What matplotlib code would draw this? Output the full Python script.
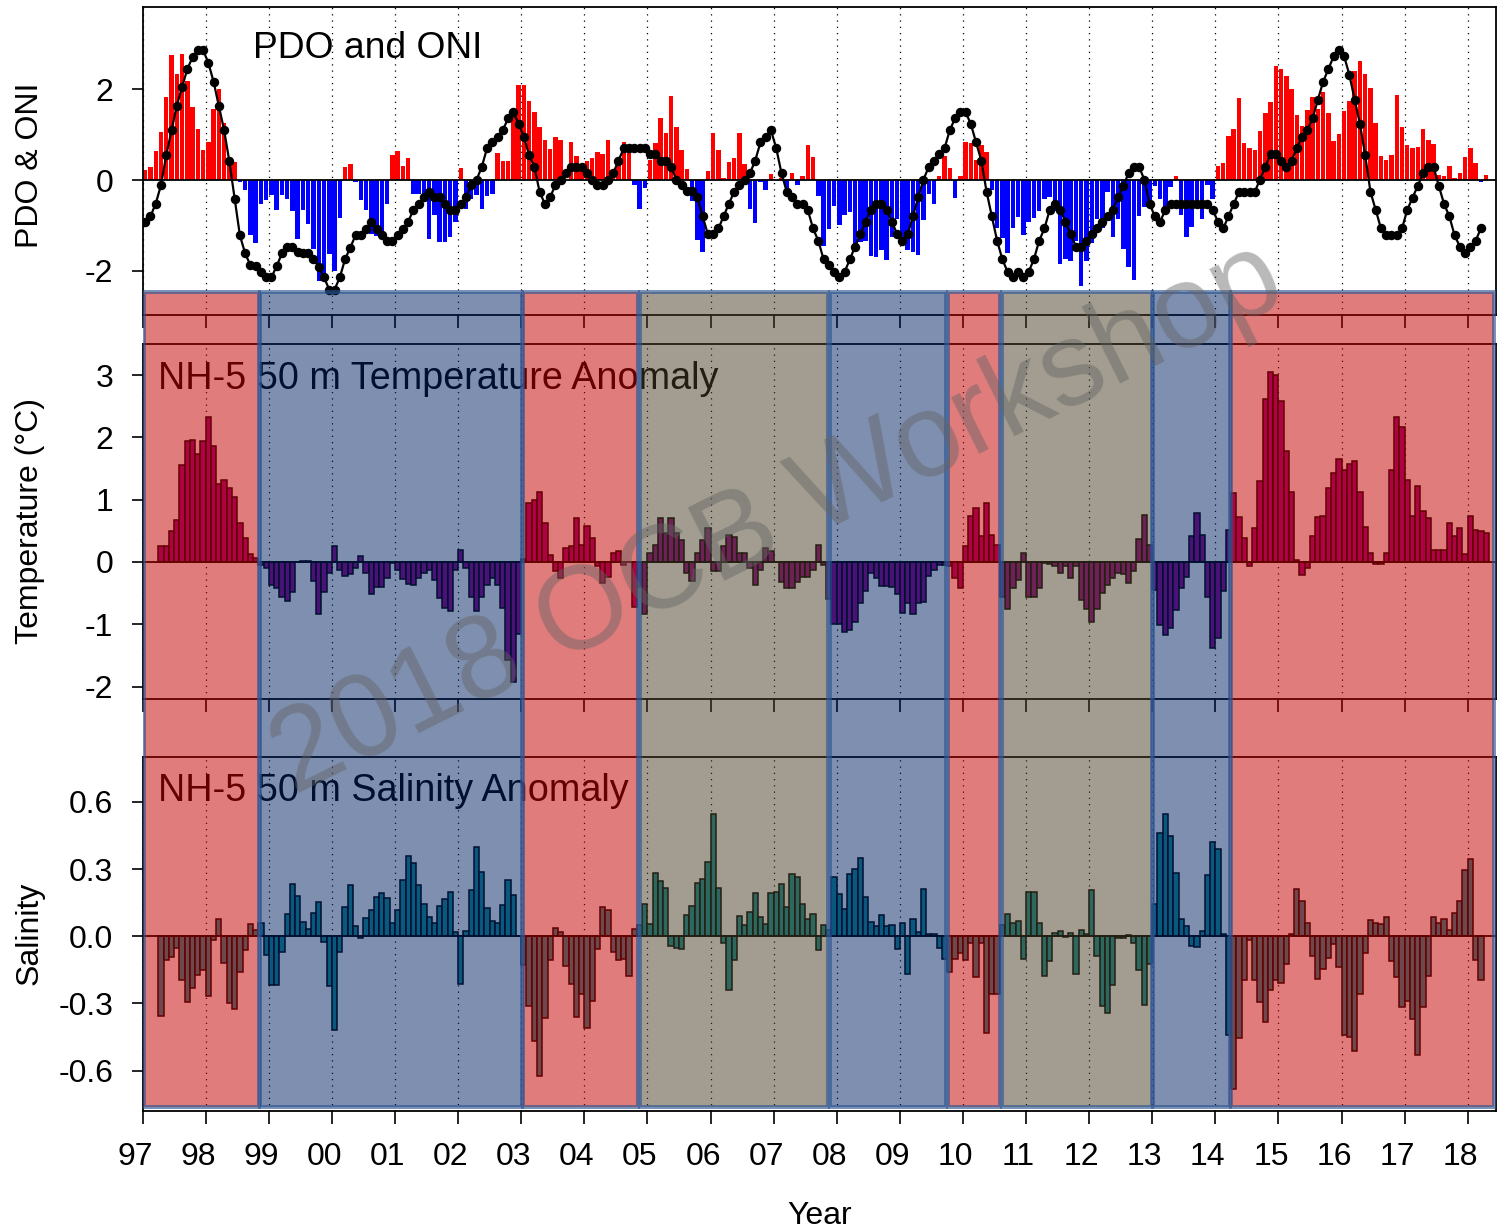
import numpy as np
import matplotlib
matplotlib.use("Agg")
import matplotlib.pyplot as plt
from matplotlib.patches import Rectangle
from matplotlib.transforms import ScaledTranslation
from matplotlib.ticker import FixedLocator

plt.rcParams['font.family'] = ['Liberation Sans', 'DejaVu Sans']
plt.rcParams['axes.unicode_minus'] = False

# ---------------- data ----------------
START_YEAR = 1997
# PDO monthly (bars), Jan 1997 ...
pdo = [
    0.23, 0.28, 0.65, 1.05, 1.83, 2.76, 2.35, 2.79, 2.19, 1.61, 1.12, 0.67,
    0.83, 1.56, 2.01, 1.27, 0.45, 0.40, -0.04, -0.22, -1.21, -1.39, -0.52, -0.44,
    -0.32, -0.66, -0.33, -0.41, -0.68, -1.30, -0.66, -0.96, -1.53, -2.23, -2.05, -1.63,
    -2.00, -0.83, 0.29, 0.35, -0.05, -0.44, -0.66, -1.19, -1.24, -1.24, -0.53, 0.55,
    0.63, 0.32, 0.48, -0.31, -0.30, -0.47, -1.30, -0.77, -1.37, -1.37, -1.26, -0.93,
    0.27, -0.64, -0.43, -0.32, -0.63, -0.35, -0.31, 0.60, 0.43, 0.42, 1.51, 2.10,
    2.09, 1.75, 1.51, 1.18, 0.89, 0.68, 0.96, 0.88, 0.01, 0.83, 0.52, 0.33,
    0.43, 0.48, 0.61, 0.57, 0.88, 0.04, 0.44, 0.85, 0.75, -0.11, -0.63, -0.17,
    0.44, 0.81, 1.36, 1.03, 1.86, 1.17, 0.66, 0.25, -0.46, -1.32, -1.60, 0.20,
    1.03, 0.66, 0.05, 0.40, 0.48, 1.04, 0.35, -0.65, -0.94, -0.05, -0.22, 0.14,
    0.01, 0.04, -0.36, 0.16, -0.10, 0.09, 0.78, 0.50, -0.36, -1.45, -1.08, -0.58,
    -1.00, -0.77, -0.71, -1.52, -1.37, -1.34, -1.67, -1.70, -1.55, -1.76, -1.25, -0.87,
    -1.40, -1.55, -1.59, -1.65, -0.88, -0.31, -0.53, 0.09, 0.52, 0.27, -0.40, 0.08,
    0.83, 0.82, 0.44, 0.78, 0.62, -0.22, -1.05, -1.27, -1.61, -1.06, -0.82, -1.21,
    -0.92, -0.83, -0.69, -0.42, -0.37, -0.69, -1.86, -1.74, -1.79, -1.34, -2.33, -1.79,
    -1.38, -0.85, -1.05, -0.27, -1.26, -0.87, -1.52, -1.93, -2.21, -0.79, -0.59, -0.48,
    -0.13, -0.43, -0.63, -0.16, 0.08, -0.78, -1.25, -1.04, -0.48, -0.87, -0.11, -0.41,
    0.30, 0.38, 0.97, 1.13, 1.80, 0.82, 0.70, 0.67, 1.08, 1.49, 1.72, 2.51,
    2.45, 2.30, 2.00, 1.44, 1.20, 1.54, 1.84, 1.56, 1.94, 1.47, 0.86, 1.01,
    1.53, 1.75, 2.40, 2.62, 2.35, 2.03, 1.25, 0.52, 0.45, 0.56, 1.88, 1.17,
    0.77, 0.70, 0.74, 1.12, 0.88, 0.79, 0.10, 0.09, 0.32, 0.05, 0.15, 0.50,
    0.70, 0.37, -0.05, 0.11,
]
# ONI (line with dots), Jan 1997 ...
oni = [
    -0.92, -0.80, -0.52, -0.11, 0.55, 1.10, 1.64, 2.05, 2.45, 2.71, 2.87, 2.87,
    2.59, 2.17, 1.64, 1.10, 0.41, -0.41, -1.22, -1.62, -1.88, -1.90, -2.03, -2.15,
    -2.15, -1.90, -1.62, -1.47, -1.47, -1.60, -1.62, -1.62, -1.75, -1.92, -2.15, -2.42,
    -2.42, -2.15, -1.75, -1.49, -1.22, -1.22, -1.09, -0.92, -1.09, -1.22, -1.34, -1.34,
    -1.22, -1.09, -0.92, -0.66, -0.52, -0.38, -0.26, -0.38, -0.38, -0.53, -0.66, -0.66,
    -0.53, -0.38, -0.11, 0.00, 0.29, 0.70, 0.83, 0.96, 1.10, 1.36, 1.50, 1.24,
    0.96, 0.55, 0.29, -0.26, -0.53, -0.38, -0.11, 0.00, 0.15, 0.29, 0.29, 0.29,
    0.15, 0.00, -0.11, -0.11, 0.00, 0.15, 0.43, 0.70, 0.70, 0.70, 0.70, 0.70,
    0.57, 0.57, 0.43, 0.43, 0.29, 0.01, -0.11, -0.24, -0.24, -0.38, -0.80, -1.20,
    -1.20, -1.07, -0.80, -0.52, -0.26, -0.11, 0.01, 0.15, 0.43, 0.83, 0.96, 1.10,
    0.70, 0.15, -0.26, -0.38, -0.52, -0.52, -0.66, -1.07, -1.34, -1.75, -1.88, -2.03,
    -2.15, -2.03, -1.75, -1.47, -1.20, -0.92, -0.66, -0.52, -0.52, -0.66, -0.92, -1.20,
    -1.34, -1.20, -0.80, -0.38, 0.01, 0.29, 0.43, 0.57, 0.70, 1.10, 1.36, 1.50,
    1.50, 1.24, 0.83, 0.43, -0.26, -0.80, -1.34, -1.75, -2.03, -2.15, -2.03, -2.15,
    -2.03, -1.75, -1.34, -1.07, -0.66, -0.52, -0.66, -0.92, -1.20, -1.47, -1.47, -1.34,
    -1.20, -1.07, -0.92, -0.80, -0.66, -0.38, -0.13, 0.15, 0.29, 0.29, 0.01, -0.53,
    -0.80, -0.92, -0.66, -0.53, -0.53, -0.53, -0.53, -0.53, -0.53, -0.53, -0.53, -0.66,
    -0.92, -1.07, -0.80, -0.53, -0.26, -0.26, -0.26, -0.26, 0.01, 0.29, 0.57, 0.57,
    0.43, 0.29, 0.43, 0.70, 0.96, 1.10, 1.36, 1.77, 2.17, 2.45, 2.73, 2.87,
    2.73, 2.32, 1.77, 1.24, 0.55, -0.26, -0.66, -1.07, -1.22, -1.22, -1.22, -1.07,
    -0.66, -0.39, -0.13, 0.15, 0.29, 0.29, -0.13, -0.53, -0.80, -1.22, -1.47, -1.62,
    -1.47, -1.34, -1.07,
]
# NH-5 50 m temperature anomaly, monthly, starting April 1997
TEMP_START_MONTH = 3
temp = [
    0.25, 0.26, 0.50, 0.68, 1.55, 1.94, 1.96, 1.74, 1.94,
    2.33, 1.86, 1.26, 1.31, 1.19, 1.05, 0.63, 0.38, 0.13, 0.06, -0.05,
    -0.09, -0.37, -0.42, -0.56, -0.63, -0.48, 0.00, 0.02, 0.02,
    -0.30, -0.83, -0.48, -0.18, 0.25, -0.13, -0.22, -0.20, -0.09, 0.09,
    -0.18, -0.51, -0.40, -0.40, -0.25, -0.01, -0.13, -0.28, -0.35, -0.37,
    -0.25, -0.18, -0.13, -0.29, -0.58, -0.74, -0.78, -0.13, 0.20, -0.10,
    -0.56, -0.78, -0.56, -0.37, -0.25, -0.37, -0.74, -1.57, -1.93, -1.15,
    0.05, 0.94, 1.00, 1.13, 0.62, 0.11, -0.15, -0.26, 0.22, 0.25,
    0.71, 0.27, 0.58, 0.38, -0.07, -0.33, -0.24, 0.14, 0.17, -0.05,
    0.00, -0.72, -0.40,
    -0.83, 0.14, 0.27, 0.71, 0.46, 0.71, 0.46, 0.35, -0.18, -0.30,
    0.14, 0.36, 0.54, -0.15, -0.15, 0.25, 0.43, 0.40, 0.15, 0.14,
    -0.10, -0.37, -0.13, 0.22, 0.17, 0.00, -0.32, -0.42, -0.41, -0.32,
    -0.24, -0.24, -0.13, 0.27, -0.05, -0.60,
    -0.99, -0.99, -1.13, -1.10, -0.96, -0.66, -0.46, -0.18, -0.25, -0.38,
    -0.38, -0.40, -0.51, -0.82, -0.66, -0.83, -0.66, -0.65, -0.22, -0.13,
    -0.05, -0.05,
    -0.07, -0.25, -0.42, 0.25, 0.74, 0.86, 0.41, 0.95, 0.43, 0.27,
    -0.56, -0.76, -0.41, -0.29, 0.15, -0.56, -0.56, -0.41, -0.01, -0.03,
    -0.07, -0.18, -0.07, -0.25, -0.07, -0.61, -0.76, -0.96, -0.76, -0.50,
    -0.37, -0.25, -0.18, -0.19, -0.33, -0.15, 0.37, 0.75, 0.27,
    -0.45, -1.01, -1.17, -1.06, -0.77, -0.42, -0.24, 0.41, 0.78, 0.43,
    -0.57, -1.38, -1.22, -0.47, 0.51,
    1.10, 0.73, 0.39, -0.06, 0.54, 1.30, 2.61, 3.05, 3.00, 2.58,
    1.79, 1.13, 0.03, -0.21, -0.10, 0.41, 0.73, 0.74, 1.18, 1.43,
    1.66, 1.47, 1.58, 1.62, 1.12, 0.56, 0.14, -0.03, -0.03, 0.15,
    1.47, 2.32, 2.16, 1.31, 0.74, 1.22, 0.82, 0.70, 0.19, 0.20,
    0.19, 0.63, 0.41, 0.55, 0.13, 0.74, 0.51, 0.49, 0.47,
]
# NH-5 50 m salinity anomaly, monthly, starting April 1997
SAL_START_MONTH = 3
sal = [
    -0.354, -0.104, -0.093, -0.051, -0.194, -0.294, -0.230, -0.175, -0.152,
    -0.267, -0.018, 0.075, -0.119, -0.299, -0.324, -0.160, -0.063, 0.054, 0.027,
    0.057, -0.085, -0.219, -0.219, -0.070, 0.099, 0.233, 0.179, 0.064, 0.034,
    0.104, 0.154, -0.025, -0.224, -0.418, -0.070, 0.131, 0.228, 0.045, -0.010,
    0.082, 0.116, 0.176, 0.191, 0.169, 0.060, 0.119, 0.251, 0.358, 0.328,
    0.228, 0.146, 0.084, 0.060, 0.134, 0.166, 0.199, 0.019, -0.212, 0.022,
    0.206, 0.400, 0.288, 0.127, 0.067, 0.057, 0.139, 0.251, 0.184, 0.000,
    -0.130, -0.313, -0.469, -0.622, -0.366, -0.107, 0.039, 0.019, -0.134, -0.215,
    -0.361, -0.257, -0.409, -0.290, -0.055, 0.131, 0.119, -0.070, -0.104, -0.100,
    -0.179, 0.034, 0.050,
    0.143, 0.054, 0.284, 0.248, 0.216, -0.045, -0.051, -0.058, 0.094, 0.134,
    0.239, 0.254, 0.333, 0.546, 0.216, -0.030, -0.242, -0.107, 0.090, 0.049,
    0.109, 0.191, 0.084, 0.054, 0.191, 0.199, 0.233, 0.131, 0.276, 0.266,
    0.143, 0.079, 0.099, -0.060, 0.049, 0.030,
    0.266, 0.188, 0.121, 0.276, 0.300, 0.351, 0.176, 0.064, 0.046, 0.097,
    0.045, 0.049, -0.055, 0.057, -0.167, 0.079, 0.019, 0.213, 0.009, 0.009,
    -0.051, -0.100,
    -0.160, -0.100, -0.075, -0.104, -0.030, -0.182, -0.030, -0.433, -0.257, -0.257,
    0.049, 0.101, 0.057, 0.069, -0.100, 0.196, 0.196, 0.061, -0.178, -0.112,
    0.015, 0.024, -0.003, 0.016, -0.170, 0.027, 0.012, 0.206, -0.090, -0.313,
    -0.343, -0.219, -0.010, -0.006, 0.004, -0.030, -0.152, -0.309, -0.122,
    0.143, 0.460, 0.546, 0.448, 0.284, 0.079, 0.045, -0.045, -0.048, 0.022,
    0.273, 0.419, 0.390, 0.012, -0.440,
    -0.682, -0.454, -0.194, -0.015, -0.194, -0.294, -0.384, -0.239, -0.197, -0.209,
    -0.125, 0.009, 0.213, 0.157, 0.060, -0.090, -0.190, -0.145, -0.096, -0.036,
    -0.137, -0.443, -0.451, -0.510, -0.260, -0.075, 0.072, 0.061, 0.054, 0.087,
    -0.110, -0.182, -0.316, -0.287, -0.369, -0.528, -0.316, -0.179, 0.087, 0.057,
    0.079, 0.027, 0.104, 0.157, 0.296, 0.345, -0.104, -0.194,
]
# Ocean-state periods (background shading)
phase_start = [1997.03, 1998.86, 2003.036, 2004.875, 2007.886, 2009.756, 2010.612, 2013.02, 2014.249]
phase_end   = [1998.837, 2003.013, 2004.843, 2007.862, 2009.732, 2010.588, 2012.998, 2014.225, 2018.409]
phase_kind  = ['warm', 'cold', 'warm', 'neutral', 'cold', 'warm', 'neutral', 'cold', 'warm']
year_ticks = list(range(1997, 2019))

# ---------------- styling ----------------
W, H = 1499, 1232
fig = plt.figure(figsize=(W / 100, H / 100), dpi=100)

def ax_at(x0, y0, x1, y1):
    return fig.add_axes([x0 / W, 1 - y1 / H, (x1 - x0) / W, (y1 - y0) / H])

XL = (1997.0, 2018.448)
FS = 23

def month_x(start, n):
    return START_YEAR + (start + np.arange(n) + 0.5) / 12.0

def style(ax, ylim, yticks, ylabels):
    ax.set_xlim(*XL)
    ax.set_ylim(*ylim)
    ax.xaxis.set_major_locator(FixedLocator(year_ticks))
    ax.set_yticks(yticks)
    ax.set_yticklabels(ylabels, fontsize=FS)
    ax.grid(axis='x', linestyle=(0, (1, 4)), color='black', lw=0.9)
    ax.tick_params(axis='x', direction='out', length=9, width=1.2, labelbottom=False)
    ax.tick_params(axis='y', direction='out', length=8, width=1.2, pad=13)
    for s in ax.spines.values():
        s.set_linewidth(1.3)
    ax.set_axisbelow(True)

# --- top panel: PDO bars + ONI line
ax1 = ax_at(142.6, 7, 1496, 315)
px = month_x(0, len(pdo))
pv = np.array(pdo)
ax1.bar(px, pv, width=0.85 / 12, color=np.where(pv >= 0, '#ff0000', '#0000ff'), linewidth=0, zorder=2)
ax1.axhline(0, color='black', lw=1.3, zorder=3)
ox = month_x(0, len(oni))
ax1.plot(ox, oni, color='black', lw=1.6, marker='o', ms=5.8, zorder=4)
style(ax1, (-2.98, 3.82), [-2, 0, 2], ['-2', '0', '2'])
ax1.text(253 / W, 1 - 58 / H, 'PDO and ONI', transform=fig.transFigure, fontsize=26.8,
         ha='left', va='baseline', color='black')

# --- middle panel: temperature
ax2 = ax_at(142.6, 344, 1496, 699)
tx = month_x(TEMP_START_MONTH, len(temp))
ax2.bar(tx, temp, width=1 / 12, color=(0.59, 0.02, 0.55), edgecolor='black', linewidth=1.1, zorder=2)
ax2.axhline(0, color='black', lw=1.3, zorder=3)
style(ax2, (-2.2, 3.5), [-2, -1, 0, 1, 2, 3], ['-2', '-1', '0', '1', '2', '3'])
ax2.text(158 / W, 1 - 389 / H, 'NH-5 50 m Temperature Anomaly', transform=fig.transFigure,
         fontsize=27.2, ha='left', va='baseline', color='black')

# --- bottom panel: salinity
ax3 = ax_at(142.6, 757, 1496, 1111)
sx = month_x(SAL_START_MONTH, len(sal))
ax3.bar(sx, sal, width=1 / 12, color=(0.08, 0.58, 0.62), edgecolor='black', linewidth=1.1, zorder=2)
ax3.axhline(0, color='black', lw=1.3, zorder=3)
style(ax3, (-0.78, 0.80), [-0.6, -0.3, 0.0, 0.3, 0.6], ['-0.6', '-0.3', '0.0', '0.3', '0.6'])
ax3.tick_params(axis='x', labelbottom=True, labelsize=FS, pad=13)
ax3.set_xticklabels(['%02d' % (y % 100) for y in year_ticks])
off = ScaledTranslation(-7.5 / 100, 0, fig.dpi_scale_trans)
for lab in ax3.get_xticklabels():
    lab.set_transform(lab.get_transform() + off)
ax3.text(158 / W, 1 - 801 / H, 'NH-5 50 m Salinity Anomaly', transform=fig.transFigure,
         fontsize=27.2, ha='left', va='baseline', color='black')

# axis labels
fig.text(30 / W, 1 - 165 / H, 'PDO & ONI', rotation=90, ha='center', va='center', fontsize=FS)
fig.text(30 / W, 1 - 521 / H, 'Temperature (°C)', rotation=90, ha='center', va='center', fontsize=FS)
fig.text(30 / W, 1 - 933 / H, 'Salinity', rotation=90, ha='center', va='center', fontsize=FS)
fig.text(820 / W, 1 - 1224 / H, 'Year', ha='center', va='baseline', fontsize=FS)

# --- overlay shading
ov = ax_at(142.6, 0, 1496, H)
ov.set_xlim(*XL)
ov.set_ylim(H, 0)
ov.axis('off')
ov.patch.set_alpha(0)
fills = {'warm': (195 / 255, 0, 0, 0.514),
         'cold': (0, 32 / 255, 98 / 255, 0.50),
         'neutral': (71 / 255, 61 / 255, 35 / 255, 0.50)}
edge = (45 / 255, 85 / 255, 145 / 255, 0.65)
for s, e, k in zip(phase_start, phase_end, phase_kind):
    ov.add_patch(Rectangle((s, 292), e - s, 1107 - 292, facecolor=fills[k],
                           edgecolor=edge, linewidth=2.8))

# watermark
fig.text(778 / W, 1 - 520 / H, '2018 OCB Workshop', rotation=26.5, rotation_mode='anchor',
         ha='center', va='center', fontsize=85, color=(0.39, 0.39, 0.39), alpha=0.45, zorder=20)

fig.savefig('out.png', dpi=100)
